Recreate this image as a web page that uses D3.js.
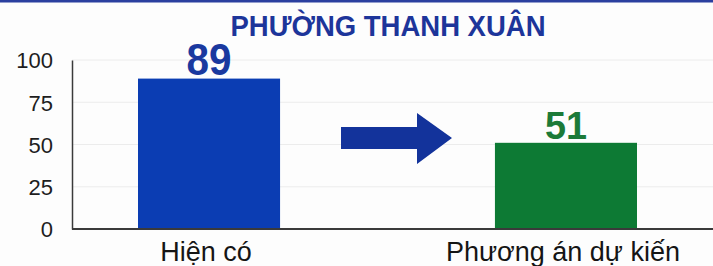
<!DOCTYPE html>
<html>
<head>
<meta charset="utf-8">
<script src="https://cdn.jsdelivr.net/npm/d3@7"></script>
<style>
  body { margin: 0; background: #fdfdfd; }
</style>
</head>
<body>
<script>
const title = 'PHƯỜNG THANH XUÂN'
const categories = ['Hiện có', 'Phương án dự kiến']
const values = [89, 51]
const barColors = ['#0b3db3', '#0d7a34']
const labelColors = ['#1a399f', '#1c7a38']
const labelSizes = [45, 39]
const labelWidths = [45, 42]
const yTicks = [0, 25, 50, 75, 100]

const m = { width: 713, height: 266 }
const plot = { left: 72, right: 713, top: 60, bottom: 229 }

const svg = d3.select('body').append('svg')
    .attr('width', m.width)
    .attr('height', m.height)
    .style('font-family', '"Liberation Sans", Arial, sans-serif')

// blue rule at the very top
svg.append('rect')
    .attr('x', 0).attr('y', 0)
    .attr('width', m.width).attr('height', 2.5)
    .attr('fill', '#2b3f9f')

const y = d3.scaleLinear()
    .domain([0, 100])
    .range([plot.bottom, plot.top])

const x = d3.scaleBand()
    .domain(categories)
    .range([138, 637])
    .paddingInner(0.602)
    .paddingOuter(0)

// faint grid
svg.append('g')
    .selectAll('line')
    .data(yTicks.filter(d => d > 0))
    .enter()
    .append('line')
        .attr('x1', plot.left)
        .attr('x2', plot.right)
        .attr('y1', d => y(d))
        .attr('y2', d => y(d))
        .attr('stroke', '#ececec')
        .attr('stroke-width', 1)

// y axis
const yAxis = svg.append('g')
    .attr('transform', `translate(${plot.left},0)`)
    .call(d3.axisLeft(y).tickValues(yTicks).tickSize(0).tickPadding(19))
yAxis.select('.domain')
    .attr('stroke', '#3a3a3a')
    .attr('stroke-width', 1.5)
yAxis.selectAll('text')
    .style('font-size', '22px')
    .attr('fill', '#1e1e1e')
    .attr('dy', '0.36em')

// bars
svg.append('g')
    .selectAll('rect')
    .data(values)
    .enter()
    .append('rect')
        .attr('x', (d, i) => x(categories[i]))
        .attr('y', d => y(d))
        .attr('width', x.bandwidth())
        .attr('height', d => y(0) - y(d))
        .attr('fill', (d, i) => barColors[i])

// baseline
svg.append('line')
    .attr('x1', plot.left).attr('x2', plot.right)
    .attr('y1', y(0)).attr('y2', y(0))
    .attr('stroke', '#3a3a3a')
    .attr('stroke-width', 1.8)

// value labels (condensed bold)
svg.append('g')
    .selectAll('text')
    .data(values)
    .enter()
    .append('text')
        .attr('x', (d, i) => x(categories[i]) + x.bandwidth() / 2)
        .attr('y', d => y(d) - 4)
        .attr('text-anchor', 'middle')
        .attr('textLength', (d, i) => labelWidths[i])
        .attr('lengthAdjust', 'spacingAndGlyphs')
        .style('font-size', (d, i) => labelSizes[i] + 'px')
        .style('font-weight', 'bold')
        .attr('fill', (d, i) => labelColors[i])
        .text(d => d)

// category labels
svg.append('g')
    .selectAll('text')
    .data(categories)
    .enter()
    .append('text')
        .attr('x', d => x(d) + x.bandwidth() / 2 - 3)
        .attr('y', y(0) + 32)
        .attr('text-anchor', 'middle')
        .style('font-size', '27px')
        .attr('fill', '#151515')
        .text(d => d)

// arrow between bars
const ax0 = 341, ax1 = 417, tip = 452, ay = 138
svg.append('path')
    .attr('d', `M${ax0},${ay - 11} L${ax1},${ay - 11} L${ax1},${ay - 25} L${tip},${ay}
        L${ax1},${ay + 26} L${ax1},${ay + 11} L${ax0},${ay + 11} Z`)
    .attr('fill', '#13339b')

// title, condensed by squeezing a bold face into the reference width
svg.append('text')
    .attr('x', 388)
    .attr('y', 36)
    .attr('text-anchor', 'middle')
    .attr('textLength', 315)
    .attr('lengthAdjust', 'spacingAndGlyphs')
    .style('font-size', '29px')
    .style('font-weight', 'bold')
    .attr('fill', '#1d359a')
    .text(title)
</script>
</body>
</html>
